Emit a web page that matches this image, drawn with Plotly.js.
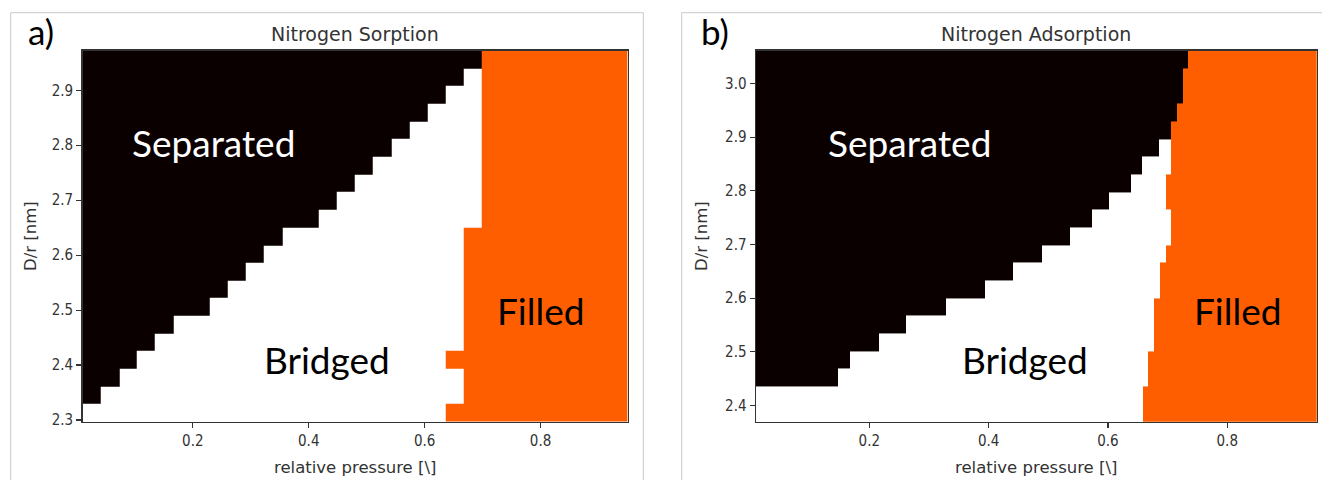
<!DOCTYPE html>
<html>
<head>
<meta charset="utf-8">
<script src="https://cdn.plot.ly/plotly-3.0.1.min.js"></script>
<style>
html,body{margin:0;padding:0;background:#fff;}
#chart{width:1322px;height:480px;}
</style>
</head>
<body>
<div id="chart"></div>
<script>
// ---------- DATA ----------
const pressureRange = [0.01, 0.95];
const phaseNames = ['Separated', 'Bridged', 'Filled'];

// Panel a) Nitrogen Sorption : D/r row centres and phase boundaries (relative pressure)
const drA = [2.313, 2.345, 2.377, 2.409, 2.442, 2.474, 2.506, 2.538, 2.570, 2.602, 2.634,
             2.667, 2.699, 2.731, 2.763, 2.795, 2.827, 2.859, 2.892, 2.924, 2.956];
const sepEndA = [0.010, 0.041, 0.073, 0.104, 0.135, 0.167, 0.229, 0.261, 0.292, 0.323, 0.355,
                 0.417, 0.449, 0.480, 0.511, 0.543, 0.574, 0.605, 0.637, 0.668, 0.699];
const fillStartA = [0.637, 0.668, 0.668, 0.637, 0.668, 0.668, 0.668, 0.668, 0.668, 0.668, 0.668,
                    0.699, 0.699, 0.699, 0.699, 0.699, 0.699, 0.699, 0.699, 0.699, 0.699];

// Panel b) Nitrogen Adsorption
const drB = [2.386, 2.419, 2.452, 2.485, 2.518, 2.551, 2.584, 2.617, 2.650, 2.683, 2.715,
             2.748, 2.781, 2.814, 2.847, 2.880, 2.913, 2.946, 2.979, 3.012, 3.045];
const sepEndB = [0.010, 0.010, 0.148, 0.168, 0.216, 0.261, 0.328, 0.394, 0.441, 0.489, 0.537,
                 0.574, 0.602, 0.639, 0.657, 0.686, 0.706, 0.715, 0.726, 0.726, 0.735];
const fillStartB = [0.659, 0.659, 0.667, 0.667, 0.678, 0.678, 0.678, 0.687, 0.687, 0.698, 0.706,
                    0.706, 0.698, 0.698, 0.706, 0.706, 0.706, 0.715, 0.726, 0.726, 0.735];

const yTicksA = [2.3, 2.4, 2.5, 2.6, 2.7, 2.8, 2.9];
const yTicksB = [2.4, 2.5, 2.6, 2.7, 2.8, 2.9, 3.0];
const xTicks = [0.2, 0.4, 0.6, 0.8];

// ---------- BUILD ----------
function buildGrid(dr, sepEnd, fillStart) {
  const edges = Array.from(new Set([pressureRange[0], pressureRange[1], ...sepEnd, ...fillStart]))
    .sort((a, b) => a - b);
  const z = dr.map((_, r) => edges.slice(0, -1).map((e, i) => {
    const m = (e + edges[i + 1]) / 2;
    return m < sepEnd[r] ? 0 : (m < fillStart[r] ? 1 : 2);
  }));
  const text = z.map(row => row.map(v => phaseNames[v]));
  return { x: edges, y: dr, z, text };
}

const BLACK = '#0b0000', WHITE = '#ffffff', ORANGE = '#ff5e00';
const cs = [[0, BLACK], [0.5, WHITE], [1, ORANGE]];

const gA = buildGrid(drA, sepEndA, fillStartA);
const gB = buildGrid(drB, sepEndB, fillStartB);

const traces = [
  { type: 'heatmap', x: gA.x, y: gA.y, z: gA.z, text: gA.text, zmin: 0, zmax: 2, colorscale: cs,
    showscale: false, zsmooth: false, xaxis: 'x', yaxis: 'y', hoverinfo: 'x+y+text' },
  { type: 'heatmap', x: gB.x, y: gB.y, z: gB.z, text: gB.text, zmin: 0, zmax: 2, colorscale: cs,
    showscale: false, zsmooth: false, xaxis: 'x2', yaxis: 'y2', hoverinfo: 'x+y+text' }
];

const W = 1322, H = 480;
const PX = v => v / W, PY = v => 1 - v / H;
const tickFont = { family: '"DejaVu Sans Condensed", "DejaVu Sans"', size: 15, color: '#333' };
const axBase = {
  showline: true, mirror: true, linecolor: '#333', linewidth: 1.5,
  ticks: 'outside', ticklen: 5, tickwidth: 1.2, tickcolor: '#333',
  showgrid: false, zeroline: false, tickfont: tickFont, fixedrange: true
};

const titleFont = { family: 'DejaVu Sans', size: 19, color: '#333' };
const labFont = { family: 'DejaVu Sans', size: 16.5, color: '#333' };
const bigFont = c => ({ family: 'Lato', size: 37, color: c });

function ann(text, x, y, font, extra) {
  return Object.assign({ text, x: PX(x), y: PY(y), xref: 'paper', yref: 'paper',
    xanchor: 'center', yanchor: 'middle', showarrow: false, font }, extra || {});
}

const layout = {
  width: W, height: H,
  margin: { l: 0, r: 0, t: 0, b: 0 },
  paper_bgcolor: '#fff', plot_bgcolor: '#fff',
  showlegend: false,
  xaxis: Object.assign({}, axBase, { domain: [PX(82.7), PX(627.5)], range: pressureRange, anchor: 'y',
    tickvals: xTicks, ticktext: xTicks.map(v => v.toFixed(1)) }),
  yaxis: Object.assign({}, axBase, { domain: [PY(421.7), PY(50.7)], range: [2.297, 2.972], anchor: 'x',
    tickvals: yTicksA, ticktext: yTicksA.map(v => v.toFixed(1)) }),
  xaxis2: Object.assign({}, axBase, { domain: [PX(756), PX(1316.7)], range: pressureRange, anchor: 'y2',
    tickvals: xTicks, ticktext: xTicks.map(v => v.toFixed(1)) }),
  yaxis2: Object.assign({}, axBase, { domain: [PY(421.7), PY(50.7)], range: [2.370, 3.061], anchor: 'x2',
    tickvals: yTicksB, ticktext: yTicksB.map(v => v.toFixed(1)) }),
  shapes: [
    { type: 'rect', xref: 'paper', yref: 'paper', x0: PX(10.7), x1: PX(643.3), y0: PY(520), y1: PY(12.7),
      line: { color: '#c8c8c8', width: 1 }, fillcolor: 'rgba(0,0,0,0)', layer: 'below' },
    { type: 'rect', xref: 'paper', yref: 'paper', x0: PX(681.7), x1: PX(1360), y0: PY(520), y1: PY(12.7),
      line: { color: '#c8c8c8', width: 1 }, fillcolor: 'rgba(0,0,0,0)', layer: 'below' }
  ],
  annotations: [
    ann('a)', 41, 31, { family: 'Lato', size: 35, color: '#000' }),
    ann('b)', 715, 31, { family: 'Lato', size: 35, color: '#000' }),
    ann('Nitrogen Sorption', 355, 34, titleFont),
    ann('Nitrogen Adsorption', 1036, 34, titleFont),
    ann('relative pressure [\\]', 355, 467, labFont),
    ann('relative pressure [\\]', 1036, 467, labFont),
    ann('D/r [nm]', 30, 236, labFont, { textangle: -90 }),
    ann('D/r [nm]', 701, 236, labFont, { textangle: -90 }),
    ann('Separated', 213, 143, bigFont('#fff')),
    ann('Bridged', 327, 359, bigFont('#000')),
    ann('Filled', 540, 310, bigFont('#000')),
    ann('Separated', 910, 143, bigFont('#fff')),
    ann('Bridged', 1025, 359, bigFont('#000')),
    ann('Filled', 1237, 310, bigFont('#000'))
  ]
};

Plotly.newPlot('chart', traces, layout, { displayModeBar: false, staticPlot: true });
</script>
</body>
</html>
